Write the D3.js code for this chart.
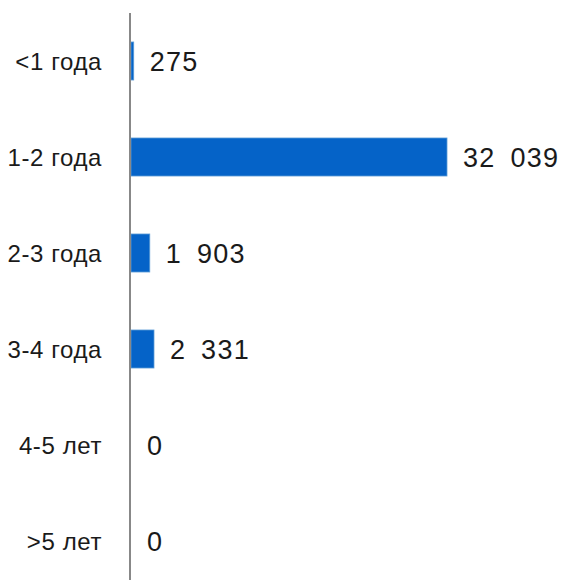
<!DOCTYPE html>
<html lang="ru">
<head>
<meta charset="UTF-8">
<title>Bars</title>
<script src="https://d3js.org/d3.v7.min.js"></script>
<style>
body { margin: 0; background: #fff; }
svg { display: block; font-family: "Liberation Sans", Arial, sans-serif; }
</style>
</head>
<body>
<script>
// data
const categories = ["<1 года", "1-2 года", "2-3 года", "3-4 года", "4-5 лет", ">5 лет"];
const values = [275, 32039, 1903, 2331, 0, 0];
const valueLabels = ["275", "32\u2002039", "1\u2002903", "2\u2002331", "0", "0"];

const w = 565, h = 580;
const axisX = 130;

const svg = d3.select("body").append("svg").attr("width", w).attr("height", h);

const y = d3.scaleBand().domain(categories).range([13, 589])
    .paddingInner(0.604).paddingOuter(0.302);
const x = d3.scaleLinear().domain([0, 32039]).range([axisX + 1, 447]);

const rows = categories.map((c, i) => ({ cat: c, v: values[i], label: valueLabels[i] }));

svg.selectAll("rect.bar").data(rows.filter(d => d.v > 0)).enter().append("rect")
    .attr("class", "bar")
    .attr("x", x(0))
    .attr("y", d => y(d.cat))
    .attr("width", d => x(d.v) - x(0))
    .attr("height", y.bandwidth())
    .attr("fill", "#0563c8")
    .attr("stroke", "#5b9bd5")
    .attr("stroke-width", 0.8);

// category labels
svg.selectAll("text.cat").data(rows).enter().append("text")
    .attr("class", "cat")
    .attr("x", 102)
    .attr("y", d => y(d.cat) + y.bandwidth() / 2)
    .attr("dy", "0.36em")
    .attr("text-anchor", "end")
    .attr("font-size", 24)
    .attr("letter-spacing", 0.6)
    .attr("fill", "#1a1a1a")
    .text(d => d.cat);

// value labels
svg.selectAll("text.val").data(rows).enter().append("text")
    .attr("class", "val")
    .attr("x", d => x(d.v) + 16)
    .attr("y", d => y(d.cat) + y.bandwidth() / 2)
    .attr("dy", "0.36em")
    .attr("font-size", 27)
    .attr("letter-spacing", 1.3)
    .attr("fill", "#1a1a1a")
    .text(d => d.label);

// axis line
svg.append("line")
    .attr("x1", axisX).attr("x2", axisX)
    .attr("y1", 13).attr("y2", h)
    .attr("stroke", "#888")
    .attr("stroke-width", 2);
</script>
</body>
</html>
